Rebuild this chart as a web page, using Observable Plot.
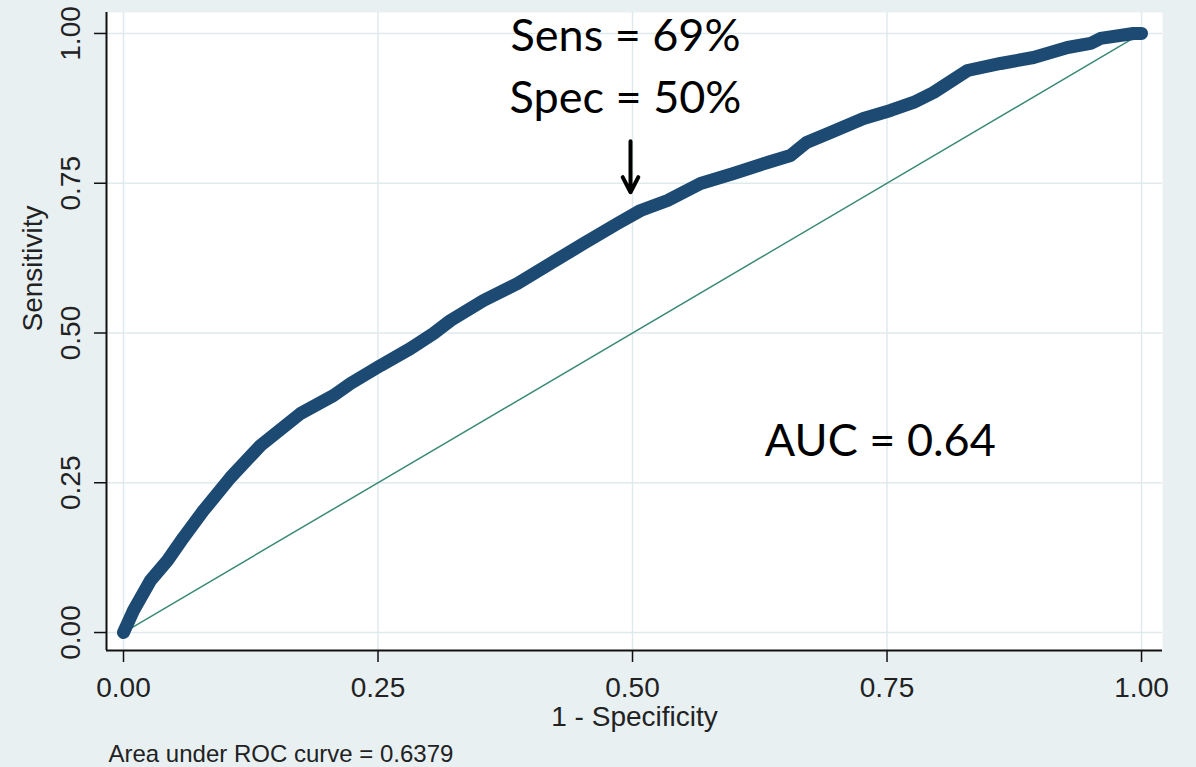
<!DOCTYPE html>
<html><head><meta charset="utf-8">
<script src="https://cdn.jsdelivr.net/npm/d3@7"></script>
<script src="https://cdn.jsdelivr.net/npm/@observablehq/plot@0.6"></script>
<style>
html,body{margin:0;padding:0;background:#e8f0f2;overflow:hidden;}
</style></head><body><div id="chart"></div>
<script>
// ROC curve: 1 - specificity (false positive rate) and sensitivity
const fpr = [0, 0.0098, 0.0265, 0.0432, 0.0589, 0.0786, 0.1051, 0.1346, 0.1739, 0.2063, 0.2230, 0.2525, 0.2819, 0.3045, 0.3212, 0.3536, 0.3870, 0.4194, 0.4519, 0.4853, 0.5079, 0.5344, 0.5668, 0.5992, 0.6326, 0.6552, 0.6709, 0.6945, 0.7269, 0.7534, 0.7760, 0.7957, 0.8291, 0.8615, 0.8939, 0.9273, 0.9499, 0.9597, 0.9921, 1];
const tpr = [0, 0.0367, 0.0868, 0.1202, 0.1586, 0.2037, 0.2588, 0.3122, 0.3656, 0.3957, 0.4157, 0.4457, 0.4741, 0.4992, 0.5209, 0.5543, 0.5826, 0.6160, 0.6494, 0.6828, 0.7045, 0.7212, 0.7496, 0.7663, 0.7846, 0.7963, 0.8180, 0.8347, 0.8581, 0.8715, 0.8848, 0.9015, 0.9382, 0.9499, 0.9599, 0.9766, 0.9833, 0.9917, 1.0, 1];
const refLine = [0, 1];
const xTicks = [0, 0.25, 0.5, 0.75, 1];
const yTicks = [0, 0.25, 0.5, 0.75, 1];
const xLabel = "1 - Specificity";
const yLabel = "Sensitivity";
const captionText = "Area under ROC curve = 0.6379";
const cutoff = [{spec: 0.50, sens: 0.69}];
const arrowSpan = [0.82, 0.735];
const aucLabel = [{x: 0.63, y: 0.295, text: "AUC = 0.64"}];

const roc = fpr.map((x, i) => ({x, y: tpr[i]}));
const diag = refLine.map(v => ({x: v, y: v}));
const xDomain = [-0.0167, 1.0206];
const yDomain = [-0.030, 1.035];
const fmt = d3.format(".2f");
const axisFont = "'Liberation Sans', Arial, sans-serif";
const annFont = "Lato, 'Open Sans', sans-serif";

const chart = Plot.plot({
  width: 1196, height: 767,
  marginLeft: 106, marginRight: 34, marginTop: 12, marginBottom: 117,
  style: {background: "#e8f0f2", fontFamily: axisFont, color: "#222", overflow: "visible"},
  x: {domain: xDomain},
  y: {domain: yDomain},
  marks: [
    Plot.frame({fill: "white", stroke: "none"}),
    Plot.gridX(xTicks, {stroke: "#e0eaec", strokeOpacity: 1, strokeWidth: 1.5}),
    Plot.gridY(yTicks, {stroke: "#e0eaec", strokeOpacity: 1, strokeWidth: 1.5}),
    Plot.axisX({ticks: xTicks, tickFormat: fmt, tickSize: 12, tickPadding: 15, fontSize: 28, label: null, stroke: "#111", strokeWidth: 1.5}),
    Plot.axisY({ticks: yTicks, tickFormat: fmt, tickSize: 12, tickPadding: 15, tickRotate: -90, fontSize: 28, label: null, stroke: "#111", strokeWidth: 1.5}),
    Plot.ruleX([xDomain[0]], {stroke: "#111", strokeWidth: 2}),
    Plot.ruleY([yDomain[0]], {stroke: "#111", strokeWidth: 2}),
    Plot.text([xLabel], {frameAnchor: "bottom", dy: 75, lineAnchor: "bottom", fontSize: 28, fill: "#222"}),
    Plot.text([yLabel], {frameAnchor: "left", dx: -65, rotate: -90, lineAnchor: "bottom", fontSize: 28, fill: "#222"}),
    Plot.text([captionText], {frameAnchor: "bottom-left", dx: 2, dy: 111, textAnchor: "start", lineAnchor: "bottom", fontSize: 24, fill: "#222"}),
    Plot.line(diag, {x: "x", y: "y", stroke: "#3b8a76", strokeWidth: 1.5}),
    Plot.line(roc, {x: "x", y: "y", stroke: "#1d4a72", strokeWidth: 13, strokeLinejoin: "round", strokeLinecap: "round"}),
    Plot.text(cutoff, {x: d => 1 - d.spec, y: "sens", text: d => `Sens = ${Math.round(d.sens * 100)}%`, dx: -7, dy: -168, lineAnchor: "bottom", fontSize: 45, fontFamily: annFont, fill: "#000"}),
    Plot.text(cutoff, {x: d => 1 - d.spec, y: "sens", text: d => `Spec = ${Math.round(d.spec * 100)}%`, dx: -7, dy: -106, lineAnchor: "bottom", fontSize: 45, fontFamily: annFont, fill: "#000"}),
    Plot.arrow(cutoff, {x1: d => 1 - d.spec, x2: d => 1 - d.spec, y1: () => arrowSpan[0], y2: () => arrowSpan[1], dx: -2, stroke: "#000", strokeWidth: 4, headLength: 24, headAngle: 55, inset: 0}),
    Plot.text(aucLabel, {x: "x", y: "y", text: "text", textAnchor: "start", lineAnchor: "bottom", fontSize: 45, fontFamily: annFont, fill: "#000"})
  ]
});
document.getElementById("chart").appendChild(chart);
</script>
</body></html>
